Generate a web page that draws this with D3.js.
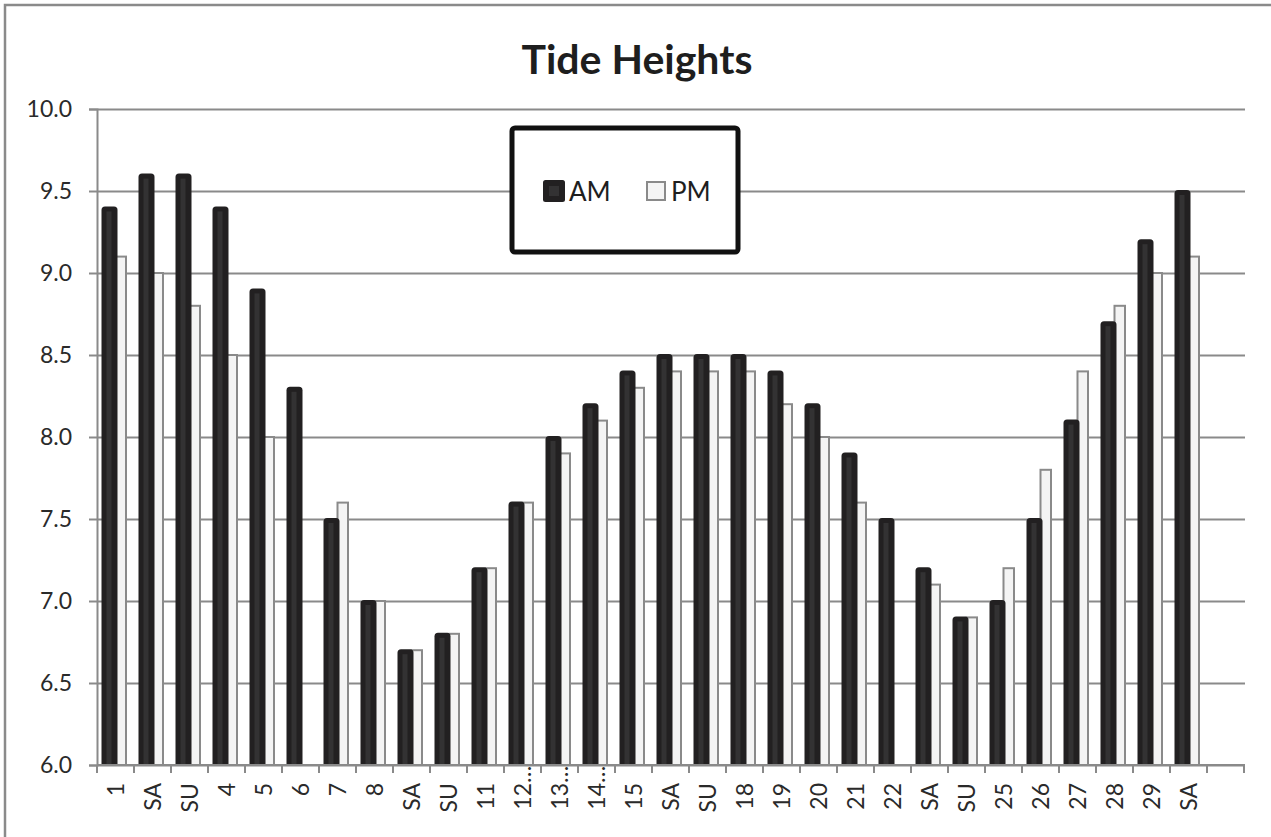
<!DOCTYPE html>
<html>
<head>
<meta charset="utf-8">
<script src="https://cdn.jsdelivr.net/npm/d3@7"></script>
<style>
  html, body { margin: 0; padding: 0; background: #fff; }
  svg { display: block; }
  text { font-family: Lato, "Open Sans", sans-serif; }
</style>
</head>
<body>
<svg id="chart" width="1271" height="837"></svg>
<script>
// ---- data ----
const categories = ["1","SA","SU","4","5","6","7","8","SA","SU","11","12…","13…","14…","15","SA","SU","18","19","20","21","22","SA","SU","25","26","27","28","29","SA",""];
const amValues = [9.4,9.6,9.6,9.4,8.9,8.3,7.5,7.0,6.7,6.8,7.2,7.6,8.0,8.2,8.4,8.5,8.5,8.5,8.4,8.2,7.9,7.5,7.2,6.9,7.0,7.5,8.1,8.7,9.2,9.5,null];
const pmValues = [9.1,9.0,8.8,8.5,8.0,null,7.6,7.0,6.7,6.8,7.2,7.6,7.9,8.1,8.3,8.4,8.4,8.4,8.2,8.0,7.6,null,7.1,6.9,7.2,7.8,8.4,8.8,9.0,9.1,null];
const yTicks = [6.0,6.5,7.0,7.5,8.0,8.5,9.0,9.5,10.0];
const seriesNames = ["AM","PM"];
const titleText = "Tide Heights";

// ---- layout ----
const svg = d3.select("#chart");
const pLeft = 97, pRight = 1244, pTop = 109, pBottom = 765;
const grid = "#8a8a8a";

const x = d3.scaleBand().domain(d3.range(categories.length)).range([pLeft, pRight]).paddingInner(0).paddingOuter(0);
const y = d3.scaleLinear().domain([6, 10]).range([pBottom, pTop]);

// outer chart border
svg.append("rect").attr("x", 5).attr("y", 5).attr("width", 1400).attr("height", 1000)
  .attr("fill", "none").attr("stroke", grid).attr("stroke-width", 2.5);

// title
svg.append("text").attr("x", 637).attr("y", 74).attr("text-anchor", "middle")
  .attr("font-size", 41).attr("font-weight", "bold").attr("fill", "#1e1e1e").text(titleText);

// y axis + gridlines
const yAxis = d3.axisLeft(y).tickValues(yTicks).tickFormat(d3.format(".1f")).tickSize(8).tickPadding(17);
const yg = svg.append("g").attr("transform", `translate(${pLeft},0)`).call(yAxis);
yg.select(".domain").attr("stroke", grid).attr("stroke-width", 2);
yg.selectAll(".tick line").attr("stroke", grid).attr("stroke-width", 2);
yg.selectAll(".tick text").attr("font-size", 23).attr("fill", "#2a2a2a").attr("font-family", "Lato, sans-serif");
yg.selectAll(".tick").append("line").attr("x1", 0).attr("x2", pRight - pLeft + 1)
  .attr("stroke", grid).attr("stroke-width", 2);

// clip
svg.append("clipPath").attr("id", "plotclip").append("rect")
  .attr("x", pLeft).attr("y", 0).attr("width", pRight - pLeft).attr("height", pBottom - 1);

const bars = svg.append("g").attr("clip-path", "url(#plotclip)");
const bw = x.bandwidth();

// PM bars (behind)
const pmData = pmValues.map((v, i) => ({ v, i })).filter(d => d.v != null);
bars.selectAll("rect.pm").data(pmData).enter().append("rect").attr("class", "pm")
  .attr("x", d => x(d.i) + 18.5).attr("width", 10.5)
  .attr("y", d => y(d.v)).attr("height", d => pBottom - y(d.v) + 5)
  .attr("fill", "#f4f4f4").attr("stroke", grid).attr("stroke-width", 2);

// AM bars (front, cylinder look)
const amData = amValues.map((v, i) => ({ v, i })).filter(d => d.v != null);
const amG = bars.selectAll("g.am").data(amData).enter().append("g").attr("class", "am");
amG.append("rect")
  .attr("x", d => x(d.i) + 4.5).attr("width", 16)
  .attr("y", d => y(d.v) - 1).attr("height", d => pBottom - y(d.v) + 10)
  .attr("rx", 3.5).attr("fill", "#222021");
amG.append("rect")
  .attr("x", d => x(d.i) + 9.5).attr("width", 5)
  .attr("y", d => y(d.v) + 4).attr("height", d => pBottom - y(d.v))
  .attr("fill", "#333233");

// x axis
const xg = svg.append("g").attr("transform", `translate(0,${pBottom})`);
xg.append("line").attr("x1", pLeft).attr("x2", pRight + 1).attr("stroke", grid).attr("stroke-width", 2);
const bounds = d3.range(categories.length + 1).map(i => i < categories.length ? x(i) : pRight);
xg.selectAll("line.tk").data(bounds).enter().append("line").attr("class", "tk")
  .attr("x1", d => d).attr("x2", d => d).attr("y1", 0).attr("y2", 8)
  .attr("stroke", grid).attr("stroke-width", 2);

// x labels, rotated
const labelTop = 783;
categories.forEach((c, i) => {
  if (!c) return;
  const main = c.replace("…", "");
  const cx = x(i) + bw / 2 + 8;
  const t = svg.append("text")
    .attr("font-size", 23).attr("fill", "#2a2a2a")
    .attr("text-anchor", "start")
    .attr("transform", `translate(${cx},0) rotate(-90)`)
    .text(main);
  const L = t.node().getComputedTextLength();
  t.attr("x", -(labelTop + L)).attr("y", 0);
  if (c.endsWith("…")) t.append("tspan").text("…");
});

// legend
const lg = svg.append("g");
lg.append("rect").attr("x", 512).attr("y", 128).attr("width", 226).attr("height", 124)
  .attr("rx", 3).attr("fill", "#fff").attr("stroke", "#111").attr("stroke-width", 5);
lg.append("rect").attr("x", 543).attr("y", 180).attr("width", 22).attr("height", 22).attr("rx", 2.5).attr("fill", "#222021");
lg.append("rect").attr("x", 549).attr("y", 186).attr("width", 10).attr("height", 10).attr("fill", "#333233");
lg.append("text").attr("x", 569).attr("y", 201).attr("font-size", 26).attr("fill", "#1e1e1e").text(seriesNames[0]);
lg.append("rect").attr("x", 647).attr("y", 182).attr("width", 18).attr("height", 18).attr("fill", "#f4f4f4").attr("stroke", grid).attr("stroke-width", 2);
lg.append("text").attr("x", 671).attr("y", 201).attr("font-size", 26).attr("fill", "#1e1e1e").text(seriesNames[1]);
</script>
</body>
</html>
